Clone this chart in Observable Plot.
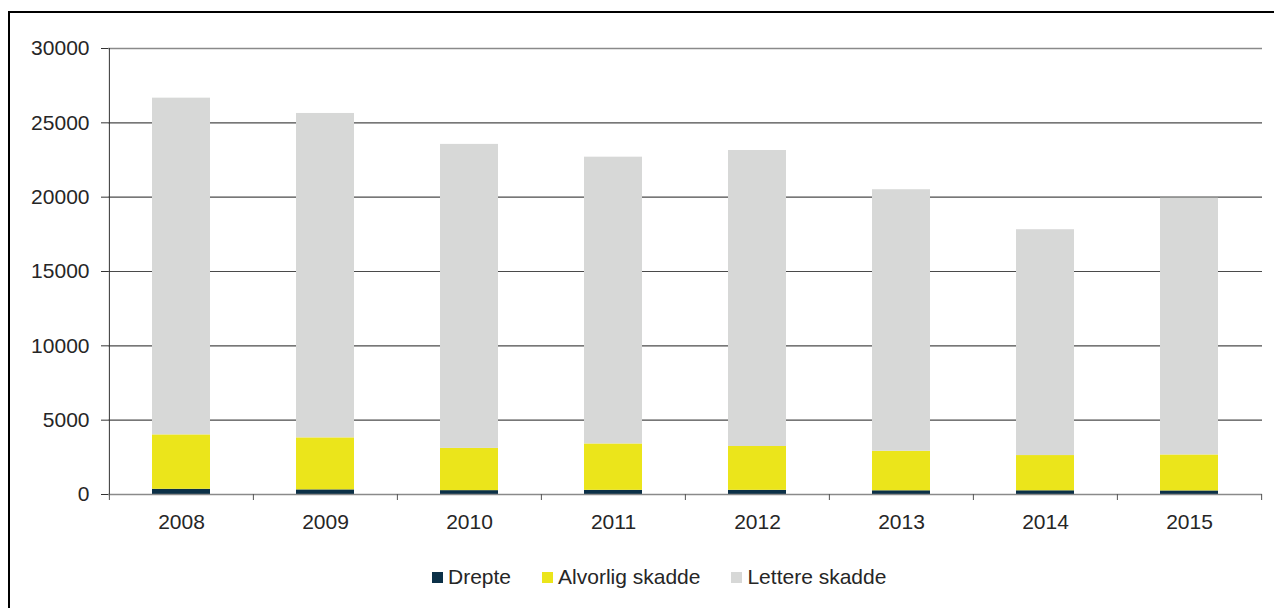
<!DOCTYPE html>
<html>
<head>
<meta charset="utf-8">
<script src="https://cdn.jsdelivr.net/npm/d3@7"></script>
<script src="https://cdn.jsdelivr.net/npm/@observablehq/plot@0.6"></script>
<style>
  html, body { margin: 0; padding: 0; background: #fff; }
  #wrap { position: relative; width: 1274px; height: 608px; overflow: hidden; background: #fff; font-family: "Liberation Sans", Arial, sans-serif; }
  #frame { position: absolute; left: 8px; top: 11px; width: 1400px; height: 800px; border-top: 2px solid #000; border-left: 2px solid #000; }
  #chart { position: absolute; left: 0; top: 0; }
  #legend { position: absolute; left: 432px; top: 565px; display: flex; align-items: center; font-size: 21px; color: #262626; white-space: nowrap; }
  .item { display: flex; align-items: center; margin-right: 31px; }
  .sw { width: 11px; height: 11px; margin-right: 5px; }
</style>
</head>
<body>
<div id="wrap">
  <div id="frame"></div>
  <div id="chart"></div>
  <div id="legend"></div>
</div>
<script>
// Data
const years = ["2008", "2009", "2010", "2011", "2012", "2013", "2014", "2015"];
const seriesNames = ["Drepte", "Alvorlig skadde", "Lettere skadde"];
const seriesColors = ["#0b3047", "#ebe51b", "#d7d8d7"];
const drepte = [350, 310, 260, 280, 280, 250, 250, 240];
const alvorlig = [3660, 3500, 2840, 3120, 2950, 2660, 2370, 2420];
const lettere = [22650, 21820, 20450, 19290, 19910, 17590, 15190, 17270];
const yTicks = [0, 5000, 10000, 15000, 20000, 25000, 30000];

const seriesValues = [drepte, alvorlig, lettere];
const data = [];
seriesNames.forEach((s, si) => {
  years.forEach((y, i) => data.push({ year: y, series: s, value: seriesValues[si][i] }));
});

const W = 1274, H = 540;
const mL = 108, mR = 12, mT = 48, mB = 46;
const step = (W - mL - mR) / years.length;

const chart = Plot.plot({
  width: W,
  height: H,
  marginLeft: mL,
  marginRight: mR,
  marginTop: mT,
  marginBottom: mB,
  style: { fontFamily: "'Liberation Sans', Arial, sans-serif", fontSize: "21px", color: "#262626", background: "transparent", overflow: "visible" },
  x: { domain: years, paddingInner: 0.6, paddingOuter: 0.3, label: null, axis: null },
  y: { domain: [0, 30000], label: null, axis: null },
  color: { domain: seriesNames, range: seriesColors },
  marks: [
    Plot.ruleY(yTicks.filter(d => d > 0 && d < 30000), { stroke: "#4a4a4a", strokeWidth: 1.2 }),
    Plot.ruleY(yTicks.filter(d => d === 30000), { stroke: "#8a8a8a", strokeWidth: 1.5 }),
    Plot.barY(data, { x: "year", y: "value", fill: "series", order: seriesNames }),
    Plot.ruleY(yTicks.filter(d => d === 0), { stroke: "#8a8a8a", strokeWidth: 1.5 }),
    Plot.ruleX([years[0]], { x: d => d, dx: -step / 2, y1: 0, y2: 30000, stroke: "#333" }),
    Plot.axisY({ ticks: yTicks, tickSize: 7, tickPadding: 12, tickFormat: d3.format("d"), stroke: "#333", label: null }),
    Plot.axisX({ tickSize: 6, tickFormat: () => "", dx: -step / 2, stroke: "#555", label: null }),
    Plot.axisX({ ticks: [years[years.length - 1]], tickSize: 6, tickFormat: () => "", dx: step / 2, stroke: "#555", label: null }),
    Plot.axisX({ tickSize: 0, tickPadding: 20, label: null })
  ]
});
document.getElementById("chart").appendChild(chart);

const legend = document.getElementById("legend");
seriesNames.forEach((s, i) => {
  const it = document.createElement("div");
  it.className = "item";
  const sw = document.createElement("span");
  sw.className = "sw";
  sw.style.background = seriesColors[i];
  const tx = document.createElement("span");
  tx.textContent = s;
  it.appendChild(sw);
  it.appendChild(tx);
  legend.appendChild(it);
});
</script>
</body>
</html>
